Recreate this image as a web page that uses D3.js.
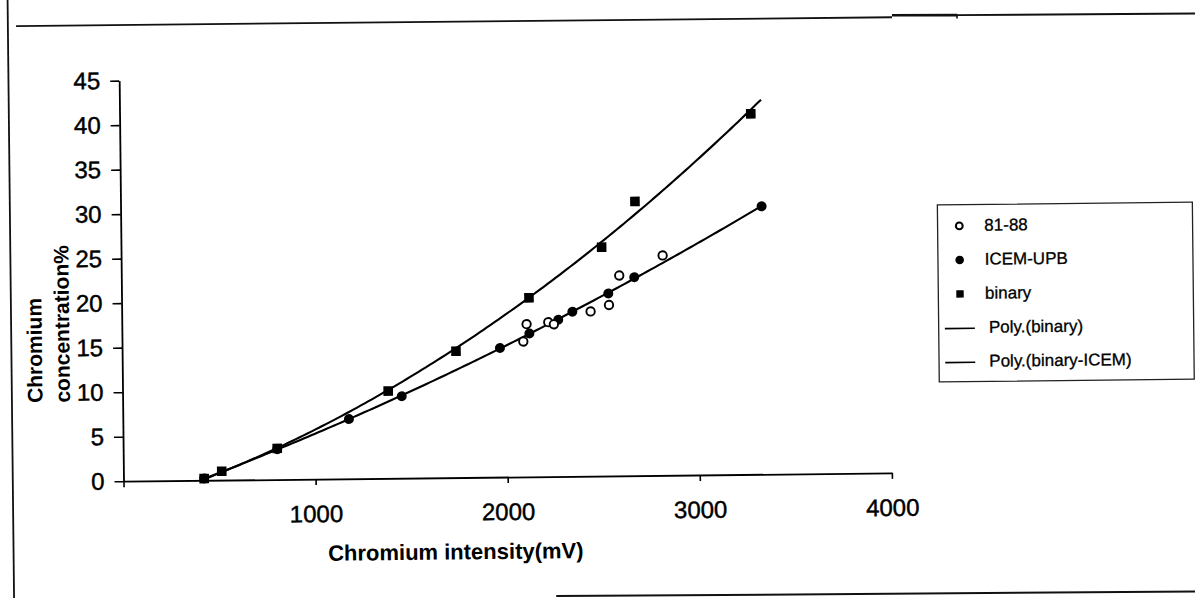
<!DOCTYPE html>
<html>
<head>
<meta charset="utf-8">
<script src="https://cdn.jsdelivr.net/npm/d3@7"></script>
<style>
  html, body { margin: 0; padding: 0; background: #fff; }
  svg { display: block; }
  text { font-family: "Liberation Sans", Arial, sans-serif; fill: #000; }
</style>
</head>
<body>
<svg id="chart" width="1195" height="598"></svg>
<script>
// ---- data ----
const xTicks = [0, 1000, 2000, 3000, 4000];
const xTickLabels = ["", "1000", "2000", "3000", "4000"];
const yTicks = [0, 5, 10, 15, 20, 25, 30, 35, 40, 45];

const binaryX = [420, 512, 802, 1383, 1738, 2121, 2502, 2678, 3286];
const binaryY = [0.2, 1.0, 3.5, 9.8, 14.2, 20.1, 25.7, 30.8, 40.5];

const icemX = [420, 802, 1177, 1453, 1967, 2121, 2272, 2346, 2534, 2670, 3337];
const icemY = [0.2, 3.4, 6.7, 9.2, 14.5, 16.1, 17.6, 18.5, 20.5, 22.3, 30.1];

const s8188X = [2089, 2107, 2220, 2249, 2441, 2537, 2592, 2819];
const s8188Y = [15.2, 17.15, 17.35, 17.1, 18.5, 19.2, 22.5, 24.7];

const trendRange = [420, 3340];

const legendLabels = ["81-88", "ICEM-UPB", "binary", "Poly.(binary)", "Poly.(binary-ICEM)"];
const legendKinds = ["open", "dot", "square", "line", "line"];

// ---- helpers ----
// least-squares 2nd order polynomial (x in thousands for conditioning)
function polyFit2(xs, ys) {
  const S = [0, 0, 0, 0, 0], T = [0, 0, 0];
  xs.forEach((x0, i) => {
    const x = x0 / 1000, y = ys[i];
    let p = 1;
    for (let k = 0; k < 5; k++) { S[k] += p; if (k < 3) T[k] += p * y; p *= x; }
  });
  const A = [[S[0], S[1], S[2], T[0]], [S[1], S[2], S[3], T[1]], [S[2], S[3], S[4], T[2]]];
  for (let c = 0; c < 3; c++) {
    for (let r = c + 1; r < 3; r++) {
      const f = A[r][c] / A[c][c];
      for (let k = c; k < 4; k++) A[r][k] -= f * A[c][k];
    }
  }
  const b = [0, 0, 0];
  for (let r = 2; r >= 0; r--) {
    let v = A[r][3];
    for (let k = r + 1; k < 3; k++) v -= A[r][k] * b[k];
    b[r] = v / A[r][r];
  }
  return x0 => { const x = x0 / 1000; return b[0] + b[1] * x + b[2] * x * x; };
}

// ---- layout ----
const ox = 123.5, oy = 481.2;
const svg = d3.select("#chart");
// the printed page sits slightly askew
const g = svg.append("g").attr("transform", `rotate(-0.62, ${ox}, ${oy})`);

const x = d3.scaleLinear().domain([0, 4000]).range([ox, 891.9]);
const y = d3.scaleLinear().domain([0, 45]).range([oy, 80.6]);

// page rules
const rule = g.append("g").attr("stroke", "#111").attr("fill", "none");
rule.append("line").attr("x1", 12.8).attr("x2", 12.8).attr("y1", -30).attr("y2", 640).attr("stroke-width", 1.8);
rule.append("line").attr("x1", 21).attr("x2", 897).attr("y1", 25).attr("y2", 25.6).attr("stroke-width", 1.8);
rule.append("line").attr("x1", 897).attr("x2", 962).attr("y1", 23.6).attr("y2", 24.2).attr("stroke-width", 2.6);
rule.append("line").attr("x1", 962).attr("x2", 962).attr("y1", 23.5).attr("y2", 27.5).attr("stroke-width", 1.6);
rule.append("line").attr("x1", 962).attr("x2", 1215).attr("y1", 24.2).attr("y2", 25.2).attr("stroke-width", 1.8);
rule.append("line").attr("x1", 555).attr("x2", 1215).attr("y1", 600.8).attr("y2", 603.2).attr("stroke-width", 2);

// axes
const xAxis = d3.axisBottom(x).tickValues(xTicks)
  .tickFormat((d, i) => xTickLabels[i]).tickSize(6).tickSizeOuter(0).tickPadding(20);
const gx = g.append("g").attr("transform", `translate(0,${oy})`).call(xAxis);

const yAxis = d3.axisLeft(y).tickValues(yTicks).tickFormat(d3.format("d"))
  .tickSize(9).tickSizeOuter(0).tickPadding(10);
const gy = g.append("g").attr("transform", `translate(${ox},0)`).call(yAxis);

[gx, gy].forEach(a => {
  a.select(".domain").attr("stroke", "#000").attr("stroke-width", 1.8);
  a.selectAll(".tick line").attr("stroke", "#000").attr("stroke-width", 1.6);
  a.selectAll("text").attr("fill", "#000").attr("font-size", 24)
    .attr("stroke", "#000").attr("stroke-width", 0.45)
    .attr("font-family", "Liberation Sans, Arial, sans-serif");
});

// axis titles
g.append("text").attr("x", 455).attr("y", 563).attr("text-anchor", "middle")
  .attr("font-size", 22).attr("font-weight", "bold").text("Chromium intensity(mV)");
const yt = g.append("text").attr("transform", "translate(43.3,402) rotate(-90)")
  .attr("font-size", 21).attr("font-weight", "bold");
yt.append("tspan").attr("x", 0).attr("y", 0).text("Chromium");
yt.append("tspan").attr("x", 0).attr("y", 27.5).text("concentration%");

// trend lines
const line = d3.line().x(d => x(d[0])).y(d => y(d[1]));
const samples = d3.range(trendRange[0], trendRange[1] + 1, 20);
[polyFit2(binaryX, binaryY), polyFit2(icemX, icemY)].forEach(f => {
  g.append("path").datum(samples.map(v => [v, f(v)]))
    .attr("d", line).attr("fill", "none").attr("stroke", "#000").attr("stroke-width", 2.1);
});

// markers
g.append("g").selectAll("circle").data(icemX).join("circle")
  .attr("cx", d => x(d)).attr("cy", (d, i) => y(icemY[i])).attr("r", 5).attr("fill", "#000");
g.append("g").selectAll("rect").data(binaryX).join("rect")
  .attr("x", d => x(d) - 4.8).attr("y", (d, i) => y(binaryY[i]) - 4.8)
  .attr("width", 9.6).attr("height", 9.6).attr("fill", "#000");
g.append("g").selectAll("circle").data(s8188X).join("circle")
  .attr("cx", d => x(d)).attr("cy", (d, i) => y(s8188Y[i])).attr("r", 4.2)
  .attr("fill", "#fff").attr("stroke", "#000").attr("stroke-width", 1.9);

// legend
const lg = g.append("g");
lg.append("rect").attr("x", 940.3).attr("y", 213.8).attr("width", 255).attr("height", 177)
  .attr("fill", "#fff").attr("stroke", "#222").attr("stroke-width", 1.3);
legendLabels.forEach((lab, i) => {
  const by = 240 + i * 34;
  const kind = legendKinds[i];
  const my = by - 5;
  if (kind === "open") {
    lg.append("circle").attr("cx", 962).attr("cy", my).attr("r", 3.4)
      .attr("fill", "#fff").attr("stroke", "#000").attr("stroke-width", 2);
  } else if (kind === "dot") {
    lg.append("circle").attr("cx", 962).attr("cy", my).attr("r", 4.3).attr("fill", "#000");
  } else if (kind === "square") {
    lg.append("rect").attr("x", 958.3).attr("y", my - 3.7).attr("width", 7.4).attr("height", 7.4).attr("fill", "#000");
  } else {
    lg.append("line").attr("x1", 946.5).attr("x2", 976.5).attr("y1", by - 4.5).attr("y2", by - 4.5)
      .attr("stroke", "#000").attr("stroke-width", 1.6);
  }
  lg.append("text").attr("x", kind === "line" ? 990.5 : 987).attr("y", by)
    .attr("font-size", 17).attr("stroke", "#000").attr("stroke-width", 0.3).text(lab);
});
</script>
</body>
</html>
